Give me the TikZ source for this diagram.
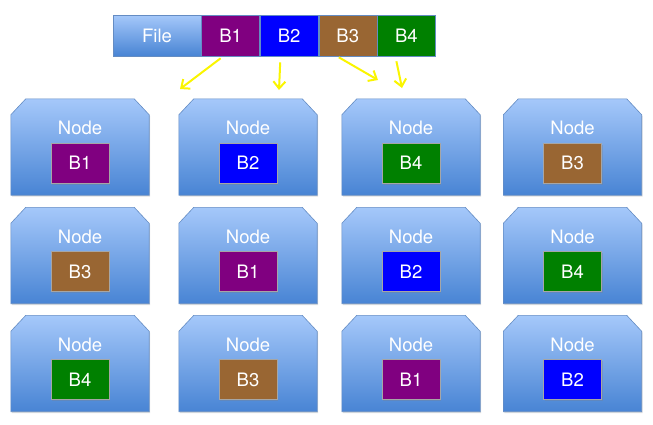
\documentclass[tikz,border=0pt]{standalone}
\usepackage{fontspec}
\setmainfont{TeX Gyre Heros}
\usetikzlibrary{positioning, shadows, arrows.meta}

\definecolor{cB1}{RGB}{128,0,128}
\definecolor{cB2}{RGB}{0,0,255}
\definecolor{cB3}{RGB}{153,102,51}
\definecolor{cB4}{RGB}{0,128,0}
\definecolor{boxtop}{RGB}{165,200,250}
\definecolor{boxbot}{RGB}{72,132,212}
\definecolor{boxline}{RGB}{100,140,195}
\definecolor{arrowyel}{RGB}{250,245,0}

\tikzset{
  server/.style={rectangle, minimum width=138pt, minimum height=96pt, inner sep=0pt},
  serverbody/.style={top color=boxtop, bottom color=boxbot, draw=boxline, line width=0.6pt,
    drop shadow={opacity=0.25, shadow xshift=1pt, shadow yshift=-1.5pt}},
  nodelbl/.style={text=white, inner sep=0pt},
  blk/.style={rectangle, minimum width=58pt, minimum height=40pt, inner sep=0pt,
    draw=black!35, line width=0.4pt, text=white,
    drop shadow={opacity=0.3, shadow xshift=1pt, shadow yshift=-1.5pt}},
  filecell/.style={rectangle, minimum width=88pt, minimum height=41pt, inner sep=0pt,
    top color=boxtop, bottom color=boxbot, draw=boxline, line width=0.6pt, text=white},
  barcell/.style={rectangle, minimum width=58pt, minimum height=41pt, inner sep=0pt,
    draw=boxline, line width=0.6pt, text=white},
  copyarrow/.style={draw=arrowyel, line width=2pt,
    -{Straight Barb[length=7pt, width=12pt]}}
}

\begin{document}
\begin{tikzpicture}[x=1pt, y=-1pt, font=\fontsize{18.5}{22}\selectfont]

  \useasboundingbox (0,0) rectangle (653,424);

  % --- File split into blocks ---
  \node[filecell] (file) at (157,35.5) {File};
  \node[barcell, fill=cB1, right=0pt of file] (fB1) {B1};
  \node[barcell, fill=cB2, right=0pt of fB1] (fB2) {B2};
  \node[barcell, fill=cB3, right=0pt of fB2] (fB3) {B3};
  \node[barcell, fill=cB4, right=0pt of fB3] (fB4) {B4};

  % --- Arrows ---
  \coordinate (tB1) at (180,89);
  \coordinate (tB2) at (279,90);
  \coordinate (tB3) at (378,80);
  \coordinate (tB4) at (402,88);
  \draw[copyarrow] ([xshift=-10pt,yshift=-2pt]fB1.south) -- (tB1);
  \draw[copyarrow] ([xshift=-9pt,yshift=-6pt]fB2.south) -- (tB2);
  \draw[copyarrow] ([xshift=-9pt,yshift=-1pt]fB3.south) -- (tB3);
  \draw[copyarrow] ([xshift=-10pt,yshift=-5pt]fB4.south) -- (tB4);

  % --- Nodes with their blocks ---
  \foreach \nm/\x/\y/\b in {n11/80/147/B1, n12/248/147/B2, n13/411/147/B4, n14/572.5/147/B3,
                            n21/80/255.5/B3, n22/248/255.5/B1, n23/411/255.5/B2, n24/572.5/255.5/B4,
                            n31/80/363.5/B4, n32/248/363.5/B3, n33/411/363.5/B1, n34/572.5/363.5/B2}{
    \node[server] (\nm) at (\x,\y) {};
    \shade[serverbody] (\nm.south west) -- ([yshift=-16pt]\nm.north west)
      -- ([xshift=15pt]\nm.north west) -- ([xshift=-15pt]\nm.north east)
      -- ([yshift=-16pt]\nm.north east) -- (\nm.south east) -- cycle;
    \node[nodelbl] (\nm-lbl) at ([yshift=19pt]\nm.center) {Node};
    \node[blk, fill=c\b] (\nm-blk) at ([yshift=-16pt]\nm.center) {\b};
  }

\end{tikzpicture}
\end{document}
